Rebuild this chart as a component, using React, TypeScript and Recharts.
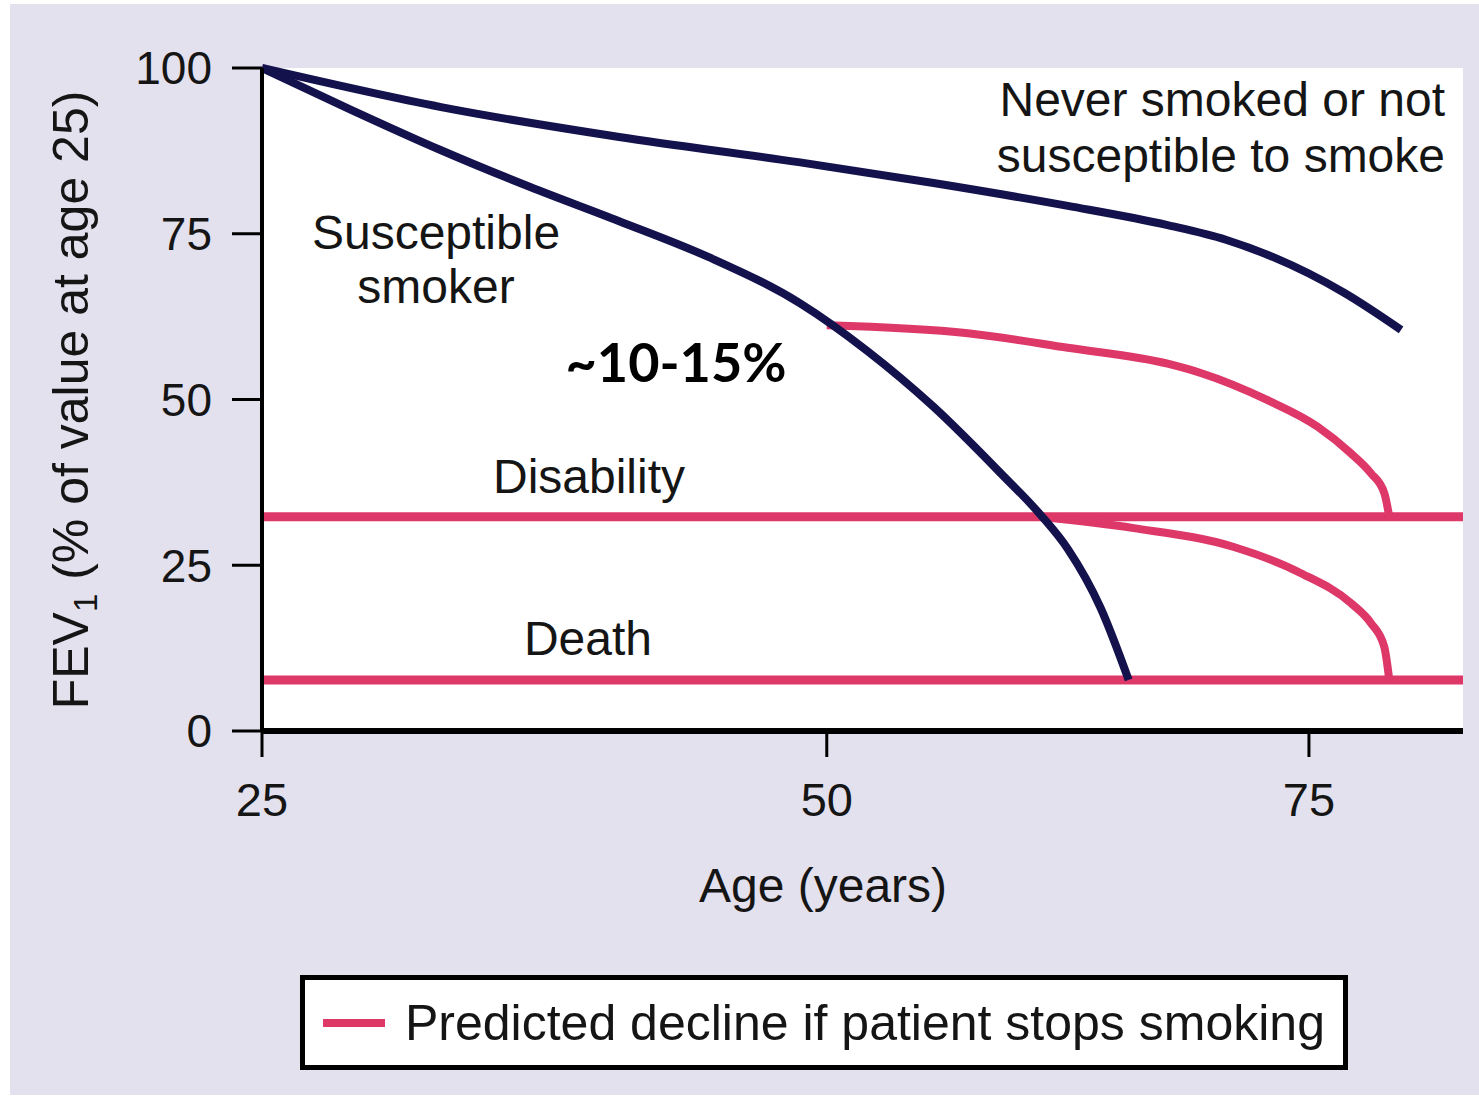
import React from 'react';
import { LineChart, Line, XAxis, YAxis, CartesianGrid, Legend } from 'recharts';

// x axis in the figure is stretched (pow-like): 25 -> 50 is wider than 50 -> 75
const ageExponent = 0.7;
const ageDomain = [25, 83.6];
const ageTicks = [25, 50, 75];
const fevTicks = [0, 25, 50, 75, 100];

const neverAges = [25, 32.36, 40.22, 48.63, 55.27, 62.12, 67.36, 70.48, 76.94, 80.11];
const neverFev = [100, 94.1, 89.6, 85.8, 82.65, 79.2, 76.3, 74.1, 66.1, 60.5];

const smokerAges = [25, 28.59, 32.36, 36.23, 40.22, 44.34, 48.71, 51.99, 55.27, 58.66, 60.71, 62.12, 63.83, 65.3];
const smokerFev = [100, 93.7, 87.6, 82.05, 76.9, 71.5, 64.5, 57.3, 48.9, 38.9, 32.6, 27.45, 18.55, 7.7];

// predicted decline after stopping at 50
const stop50Ages = [50, 57.0, 62.12, 67.36, 69.13, 72.74, 75.48, 77.31, 78.42, 79.17, 79.45];
const stop50Fev = [61.2, 60.0, 57.8, 55.4, 54.0, 49.9, 45.9, 41.9, 38.9, 35.9, 32.3];

// predicted decline after stopping at disability
const stopDisAges = [60.6, 65.57, 70.91, 74.56, 77.31, 78.42, 79.17, 79.45];
const stopDisFev = [32.3, 30.6, 27.75, 23.8, 19.3, 16.3, 12.7, 7.7];

const thresholdAges = [25, 83.6];
const disabilityFev = [32.3, 32.3];
const deathFev = [7.7, 7.7];

const NAVY = '#14124c';
const PINK = '#dd3868';
const FONT = '"Liberation Sans", Arial, Helvetica, sans-serif';
const LEGEND_TEXT = 'Predicted decline if patient stops smoking';

const toPoints = (ages: number[], values: number[]) =>
  ages.map((age, i) => ({ age, fev: values[i] }));

// minimal d3-like power scale so recharts can place the stretched age axis
function powScale(exponent: number): any {
  let dom: number[] = [0, 1];
  let rng: number[] = [0, 1];
  const t = (v: number) => Math.sign(v) * Math.pow(Math.abs(v), exponent);
  const scale: any = (v: number) => {
    const d0 = t(dom[0]);
    const d1 = t(dom[dom.length - 1]);
    const r0 = rng[0];
    const r1 = rng[rng.length - 1];
    return r0 + ((t(Number(v)) - d0) / (d1 - d0)) * (r1 - r0);
  };
  scale.domain = (d?: any[]) => {
    if (d === undefined) return dom.slice();
    dom = d.map(Number);
    return scale;
  };
  scale.range = (r?: any[]) => {
    if (r === undefined) return rng.slice();
    rng = r.map(Number);
    return scale;
  };
  scale.copy = () => powScale(exponent).domain(dom).range(rng);
  scale.ticks = () => ageTicks.slice();
  return scale;
}

const ageScale = powScale(ageExponent);

function LegendBox(props: any) {
  const items = (props.payload || []).filter((p: any) => p.type !== 'none');
  return (
    <div
      style={{
        boxSizing: 'border-box',
        width: 1048,
        height: 95,
        border: '5px solid #000',
        background: '#fff',
        display: 'flex',
        alignItems: 'center',
        paddingLeft: 18,
        fontFamily: FONT,
        fontSize: 50,
        color: '#151515',
      }}
    >
      {items.map((item: any) => (
        <React.Fragment key={item.value}>
          <span style={{ display: 'inline-block', width: 62, height: 8, background: item.color, marginRight: 20 }} />
          <span>{item.value}</span>
        </React.Fragment>
      ))}
    </div>
  );
}

export default function App() {
  const textStyle = { fontFamily: FONT, fontSize: 48, fill: '#151515' };
  return (
    <div style={{ position: 'absolute', left: 0, top: 0, width: 1479, height: 1099, background: '#fff' }}>
      <div style={{ position: 'absolute', left: 10, top: 4, width: 1469, height: 1091, background: '#e4e1ef' }} />
      <div style={{ position: 'absolute', left: 0, top: 0 }}>
        <LineChart width={1479} height={1099} margin={{ top: 68, right: 16, bottom: 248, left: 102 }}>
          <CartesianGrid horizontal={false} vertical={false} fill="#fff" />
          <XAxis
            type="number"
            dataKey="age"
            scale={ageScale}
            domain={ageDomain}
            ticks={ageTicks}
            allowDataOverflow
            height={120}
            axisLine={{ stroke: '#000', strokeWidth: 6 }}
            tickLine={{ stroke: '#000', strokeWidth: 3 }}
            tickSize={26}
            tickMargin={26}
            tick={{ fontFamily: FONT, fontSize: 47, fill: '#151515' }}
          />
          <YAxis
            type="number"
            dataKey="fev"
            domain={[0, 100]}
            ticks={fevTicks}
            width={160}
            axisLine={{ stroke: '#000', strokeWidth: 4 }}
            tickLine={{ stroke: '#000', strokeWidth: 3 }}
            tickSize={30}
            tickMargin={20}
            tick={{ fontFamily: FONT, fontSize: 46, fill: '#151515' }}
          />
          <Legend
            layout="vertical"
            align="center"
            verticalAlign="middle"
            wrapperStyle={{ left: 300, top: 975, width: 1048, height: 95 }}
            content={<LegendBox />}
          />
          <Line data={toPoints(thresholdAges, disabilityFev)} dataKey="fev" name="Disability" stroke={PINK} strokeWidth={9} dot={false} legendType="none" isAnimationActive={false} />
          <Line data={toPoints(thresholdAges, deathFev)} dataKey="fev" name="Death" stroke={PINK} strokeWidth={9} dot={false} legendType="none" isAnimationActive={false} />
          <Line data={toPoints(stop50Ages, stop50Fev)} dataKey="fev" name={LEGEND_TEXT} type="monotone" stroke={PINK} strokeWidth={8} dot={false} isAnimationActive={false} />
          <Line data={toPoints(stopDisAges, stopDisFev)} dataKey="fev" name="Stops at disability" type="monotone" stroke={PINK} strokeWidth={8} dot={false} legendType="none" isAnimationActive={false} />
          <Line data={toPoints(neverAges, neverFev)} dataKey="fev" name="Never smoked" type="monotone" stroke={NAVY} strokeWidth={8} dot={false} legendType="none" isAnimationActive={false} />
          <Line data={toPoints(smokerAges, smokerFev)} dataKey="fev" name="Susceptible smoker" type="monotone" stroke={NAVY} strokeWidth={8} dot={false} legendType="none" isAnimationActive={false} />

          <text x={1445} y={116} textAnchor="end" style={textStyle}>Never smoked or not</text>
          <text x={1445} y={172} textAnchor="end" style={textStyle}>susceptible to smoke</text>
          <text x={436} y={249} textAnchor="middle" style={textStyle}>Susceptible</text>
          <text x={436} y={303} textAnchor="middle" style={textStyle}>smoker</text>
          <text x={676} y={382} textAnchor="middle" style={{ fontFamily: 'Lato, "Open Sans", sans-serif', fontWeight: 700, fontSize: 54, fill: '#000' }}>~10-15%</text>
          <text x={589} y={493} textAnchor="middle" style={textStyle}>Disability</text>
          <text x={588} y={655} textAnchor="middle" style={textStyle}>Death</text>
          <text x={823} y={902} textAnchor="middle" style={textStyle}>Age (years)</text>
          <text x={88} y={400} textAnchor="middle" transform="rotate(-90, 88, 400)" style={{ ...textStyle, fontSize: 50 }}>
            <tspan>FEV</tspan>
            <tspan dy={9} style={{ fontSize: 33 }}>1</tspan>
            <tspan dy={-9}> (% of value at age 25)</tspan>
          </text>
        </LineChart>
      </div>
    </div>
  );
}
